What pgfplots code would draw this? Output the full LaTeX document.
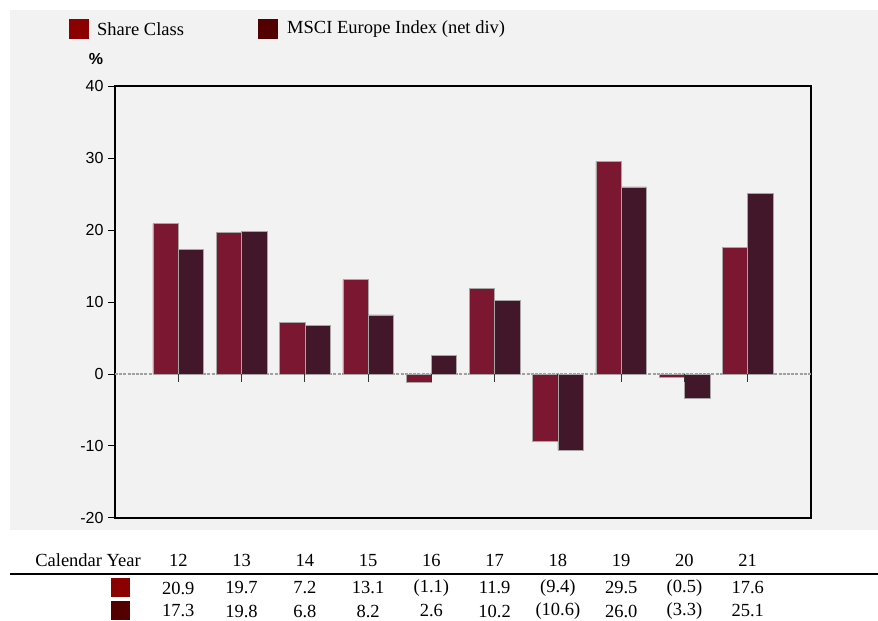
\documentclass[border=0pt]{standalone}
\usepackage{pgfplots}
\pgfplotsset{compat=1.18}
\usepackage{fontspec}
\setmainfont{Liberation Serif}
\newfontfamily\arialf{Liberation Sans}
\definecolor{bgc}{HTML}{F2F2F2}
\definecolor{barA}{HTML}{7B1730}
\definecolor{barB}{HTML}{43172A}
\definecolor{legA}{HTML}{8B0000}
\definecolor{legB}{HTML}{520000}
\definecolor{zerol}{HTML}{A0A0A0}
\newcommand{\tf}{\fontsize{18.5}{20}\selectfont}
\begin{document}
\begin{tikzpicture}
\useasboundingbox (0pt,0pt) rectangle (878pt,621pt);
\fill[bgc] (10pt,91pt) rectangle (878pt,611pt);
% legend
\fill[legA] (69pt,582pt) rectangle (89pt,602pt);
\node[anchor=west,inner sep=0pt] at (97pt,592pt) {\tf Share Class};
\fill[legB] (258pt,582pt) rectangle (278pt,602pt);
\node[anchor=west,inner sep=0pt] at (287pt,592pt) {\tf MSCI Europe Index (net div)};
\node[inner sep=0pt] at (96pt,562pt) {\arialf\bfseries\fontsize{16}{16}\selectfont \%};
\begin{axis}[
  at={(115pt,103pt)}, anchor=south west,
  scale only axis, width=696pt, height=432pt,
  xmin=-1, xmax=10, ymin=-20, ymax=40,
  ybar=0pt, bar width=0.4,
  xtick=\empty,
  ytick={-20,-10,0,10,20,30,40},
  ytick pos=left, tick align=outside,
  major tick length=7pt,
  major tick style={black, line width=1pt},
  axis line style={black, line width=2.2pt},
  yticklabel style={font=\arialf\fontsize{16}{16}\selectfont, xshift=-1pt},
  /pgf/number format/assume math mode=true,
  clip=false,
]
\draw[zerol, line width=2.4pt, dash pattern=on 3pt off 1.2pt] (axis cs:-1,0) -- (axis cs:10,0);
\addplot[fill=barA, draw=black!35, line width=0.5pt, bar shift=-0.2] coordinates {
  (0,20.9) (1,19.7) (2,7.2) (3,13.1) (4,-1.1) (5,11.9) (6,-9.4) (7,29.5) (8,-0.5) (9,17.6)};
\addplot[fill=barB, draw=black!35, line width=0.5pt, bar shift=0.2] coordinates {
  (0,17.3) (1,19.8) (2,6.8) (3,8.2) (4,2.6) (5,10.2) (6,-10.6) (7,26.0) (8,-3.3) (9,25.1)};
\pgfplotsinvokeforeach{0,...,9}{
  \draw[black!80, line width=1pt] (axis cs:#1,0) -- ++(0pt,-8pt);
}
\end{axis}
% table below
\node[anchor=east,inner sep=0pt] at (141pt,61pt) {\tf Calendar Year};
\draw[black, line width=1.6pt] (10pt,47pt) -- (878pt,47pt);
\fill[legA] (111pt,24pt) rectangle (130pt,43pt);
\fill[legB] (111pt,1pt) rectangle (130pt,20pt);
\foreach \i/\yr/\a/\b in {0/12/20.9/17.3, 1/13/19.7/19.8, 2/14/7.2/6.8, 3/15/13.1/8.2, 4/16/(1.1)/2.6, 5/17/11.9/10.2, 6/18/(9.4)/(10.6), 7/19/29.5/26.0, 8/20/(0.5)/(3.3), 9/21/17.6/25.1}{
  \pgfmathsetmacro{\xx}{115+63.2727*(\i+1)}
  \node[inner sep=0pt] at (\xx pt,61pt) {\tf \yr};
  \node[inner sep=0pt] at (\xx pt,33pt) {\tf \a};
  \node[inner sep=0pt] at (\xx pt,10pt) {\tf \b};
}
\end{tikzpicture}
\end{document}
